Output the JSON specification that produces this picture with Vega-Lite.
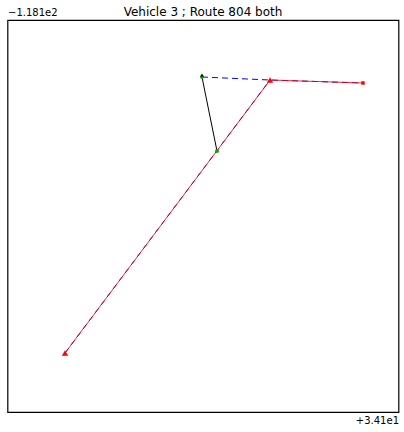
{
  "$schema": "https://vega.github.io/schema/vega-lite/v6.json",
  "width": 391,
  "height": 392,
  "autosize": {"type": "none"},
  "padding": {"left": 7.5, "top": 20, "right": 5.5, "bottom": 20},
  "background": "white",
  "config": {
    "font": "DejaVu Sans",
    "view": {"stroke": "black", "strokeWidth": 1.2}
  },
  "title": {
    "text": "Vehicle 3 ; Route 804 both",
    "fontSize": 12,
    "fontWeight": "normal",
    "font": "DejaVu Sans",
    "color": "black",
    "anchor": "middle",
    "baseline": "bottom",
    "offset": -24
  },
  "datasets": {
    "dashed": [
      {"seg": "a", "ord": 1, "lat": 34.104974, "lon": -118.101454},
      {"seg": "a", "ord": 2, "lat": 34.106714, "lon": -118.101531},
      {"seg": "a", "ord": 3, "lat": 34.109092, "lon": -118.101607},
      {"seg": "b", "ord": 1, "lat": 34.101471, "lon": -118.108495},
      {"seg": "b", "ord": 2, "lat": 34.106714, "lon": -118.101531}
    ],
    "route": [
      {"ord": 1, "lat": 34.101471, "lon": -118.108495},
      {"ord": 2, "lat": 34.106714, "lon": -118.101531},
      {"ord": 3, "lat": 34.109092, "lon": -118.101607}
    ],
    "link": [
      {"ord": 1, "lat": 34.104974, "lon": -118.101454},
      {"ord": 2, "lat": 34.105358, "lon": -118.103342}
    ],
    "stops": [
      {"lat": 34.101471, "lon": -118.108495},
      {"lat": 34.106714, "lon": -118.101531}
    ],
    "endpt": [
      {"lat": 34.109092, "lon": -118.101607}
    ],
    "green": [
      {"lat": 34.104974, "lon": -118.101454},
      {"lat": 34.105358, "lon": -118.103342}
    ],
    "vehicle": [
      {"lat": 34.104974, "lon": -118.101454}
    ]
  },
  "encoding": {
    "x": {
      "field": "lat",
      "type": "quantitative",
      "scale": {"domain": [34.1, 34.11], "zero": false, "nice": false},
      "axis": {
        "title": "+3.41e1",
        "labels": false,
        "ticks": false,
        "domain": false,
        "grid": false,
        "titleFont": "DejaVu Sans",
        "titleFontSize": 10,
        "titleFontWeight": "normal",
        "titleColor": "black",
        "titleAlign": "right",
        "titleBaseline": "top",
        "titleAnchor": "end",
        "titleX": 391,
        "titleY": 3
      }
    },
    "y": {
      "field": "lon",
      "type": "quantitative",
      "scale": {"domain": [-118.11, -118.1], "zero": false, "nice": false},
      "axis": {
        "title": "−1.181e2",
        "labels": false,
        "ticks": false,
        "domain": false,
        "grid": false,
        "titleFont": "DejaVu Sans",
        "titleFontSize": 10,
        "titleFontWeight": "normal",
        "titleColor": "black",
        "titleAngle": 0,
        "titleAlign": "left",
        "titleBaseline": "bottom",
        "titleX": 0,
        "titleY": -3
      }
    }
  },
  "layer": [
    {
      "data": {"name": "dashed"},
      "mark": {"type": "line", "color": "#0000ff", "strokeWidth": 1, "strokeDash": [6, 4]},
      "encoding": {"detail": {"field": "seg"}, "order": {"field": "ord"}}
    },
    {
      "data": {"name": "route"},
      "mark": {"type": "line", "color": "#ff0000", "strokeWidth": 1, "opacity": 0.85},
      "encoding": {"order": {"field": "ord"}}
    },
    {
      "data": {"name": "link"},
      "mark": {"type": "line", "color": "black", "strokeWidth": 1},
      "encoding": {"order": {"field": "ord"}}
    },
    {
      "data": {"name": "stops"},
      "mark": {"type": "point", "shape": "triangle-up", "filled": true, "color": "#ff0000", "size": 40, "opacity": 1}
    },
    {
      "data": {"name": "endpt"},
      "mark": {"type": "point", "shape": "square", "filled": true, "color": "#ff0000", "size": 12, "opacity": 1}
    },
    {
      "data": {"name": "green"},
      "mark": {"type": "point", "shape": "circle", "filled": true, "color": "#00aa00", "size": 16, "opacity": 1}
    },
    {
      "data": {"name": "vehicle"},
      "mark": {"type": "point", "shape": "triangle-up", "filled": true, "color": "black", "size": 12, "opacity": 1, "yOffset": -2}
    }
  ]
}
